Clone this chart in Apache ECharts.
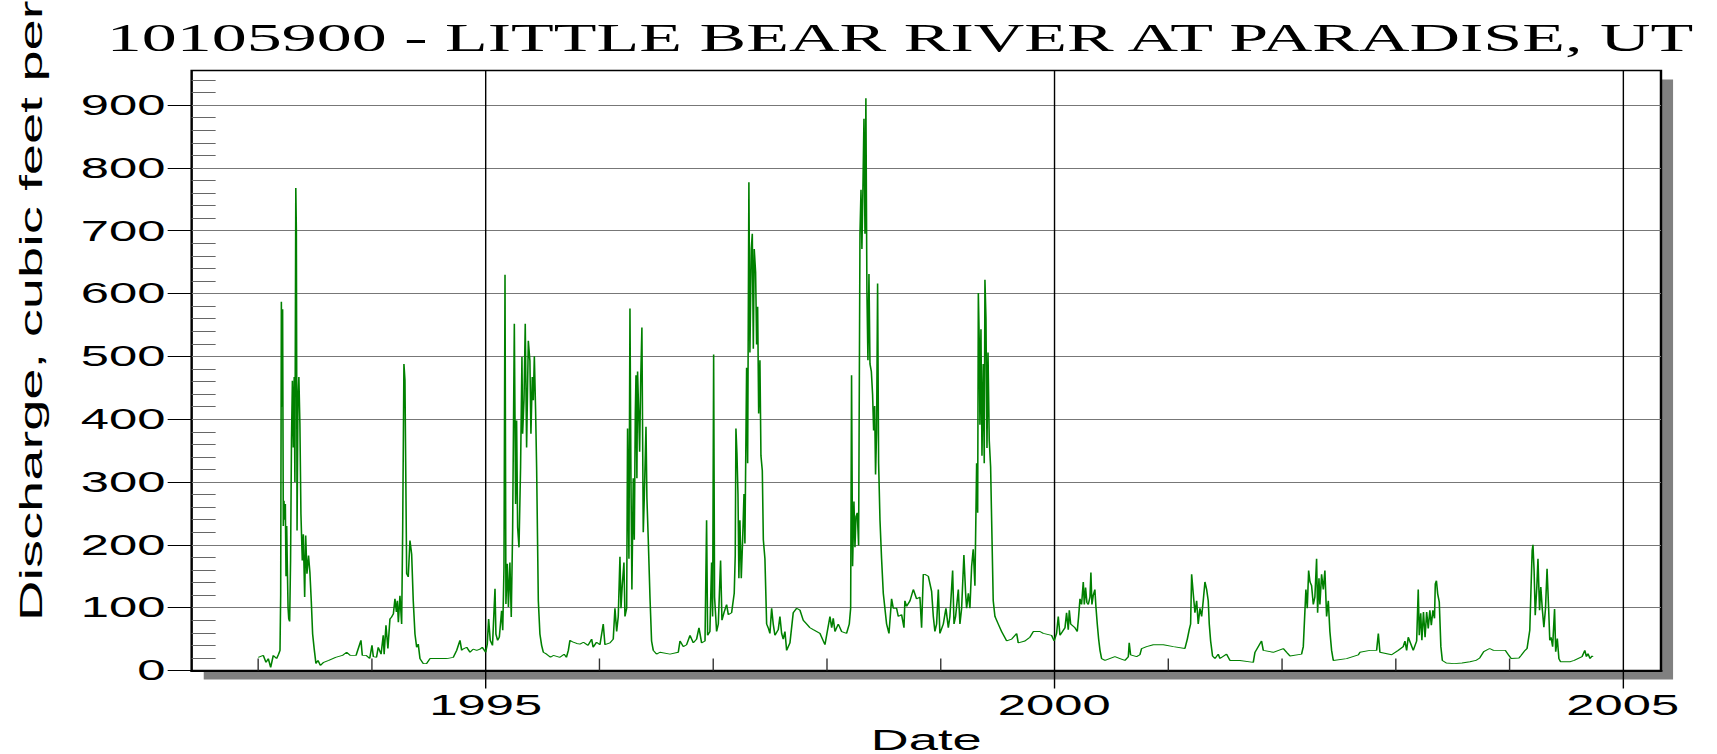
<!DOCTYPE html>
<html>
<head>
<meta charset="utf-8">
<title>10105900 - Little Bear River at Paradise, UT</title>
<script src="https://cdn.jsdelivr.net/npm/echarts@6/dist/echarts.min.js"></script>
<style>
html, body { margin: 0; padding: 0; background: #fff; overflow: hidden; }
/* the original plot uses very wide lettering, so draw narrow and stretch sideways */
#main { width: 981px; height: 754px; transform: scaleX(1.75025); transform-origin: 0 0; }
</style>
</head>
<body>
<div id="main"></div>
<script>
var STRETCH = 1717 / 981;

// daily discharge, [decimal year, cfs]
var flow1993 = [[1993.000,21],[1993.044,24],[1993.068,13],[1993.088,19],[1993.109,5],[1993.132,24],[1993.161,19],[1993.179,26],[1993.191,32],[1993.197,120],[1993.203,587],[1993.209,420],[1993.214,575],[1993.220,230],[1993.226,270],[1993.232,240],[1993.238,265],[1993.244,150],[1993.250,230],[1993.256,160],[1993.262,100],[1993.268,82],[1993.276,78],[1993.284,175],[1993.292,366],[1993.300,461],[1993.308,355],[1993.316,467],[1993.322,300],[1993.330,768],[1993.335,700],[1993.341,223],[1993.349,430],[1993.357,467],[1993.366,393],[1993.375,250],[1993.387,175],[1993.396,217],[1993.408,117],[1993.417,215],[1993.428,154],[1993.442,183],[1993.454,156],[1993.466,111],[1993.478,58],[1993.492,34],[1993.507,11],[1993.525,16],[1993.546,8],[1993.575,13],[1993.620,16],[1993.680,21],[1993.740,24],[1993.777,29],[1993.810,24],[1993.860,24],[1993.903,48],[1993.915,24],[1993.950,24],[1993.980,19]];
var flow1994 = [[1994.000,40],[1994.012,22],[1994.040,21],[1994.055,37],[1994.080,26],[1994.099,56],[1994.107,26],[1994.123,72],[1994.140,35],[1994.158,82],[1994.172,85],[1994.188,90],[1994.202,114],[1994.215,93],[1994.223,111],[1994.232,77],[1994.246,119],[1994.261,74],[1994.270,223],[1994.281,488],[1994.290,462],[1994.305,154],[1994.319,149],[1994.334,207],[1994.349,185],[1994.363,111],[1994.378,58],[1994.393,37],[1994.407,42],[1994.422,19],[1994.451,11],[1994.480,11],[1994.510,19],[1994.600,19],[1994.657,19],[1994.715,21],[1994.745,32],[1994.774,48],[1994.789,32],[1994.800,34],[1994.833,37],[1994.862,29],[1994.890,34],[1994.921,32],[1994.950,34],[1994.970,37]];
var flow1995 = [[1995.000,29],[1995.014,42],[1995.026,82],[1995.040,48],[1995.060,40],[1995.082,130],[1995.090,58],[1995.105,48],[1995.120,53],[1995.140,95],[1995.150,64],[1995.161,164],[1995.170,630],[1995.178,106],[1995.190,170],[1995.200,101],[1995.213,172],[1995.225,85],[1995.237,223],[1995.252,552],[1995.263,265],[1995.272,398],[1995.281,228],[1995.293,196],[1995.307,324],[1995.319,499],[1995.325,377],[1995.337,430],[1995.348,552],[1995.360,355],[1995.375,525],[1995.389,493],[1995.398,377],[1995.410,467],[1995.419,430],[1995.428,500],[1995.439,414],[1995.448,324],[1995.463,111],[1995.477,58],[1995.492,40],[1995.507,29],[1995.536,26],[1995.570,21],[1995.595,24],[1995.653,21],[1995.690,26],[1995.710,21],[1995.727,32],[1995.741,48],[1995.770,45],[1995.800,43],[1995.829,42],[1995.860,45],[1995.900,40],[1995.932,50],[1995.945,37],[1995.975,45]];
var flow1996 = [[1996.005,41],[1996.034,74],[1996.049,41],[1996.093,44],[1996.122,50],[1996.137,99],[1996.152,62],[1996.166,86],[1996.181,181],[1996.190,99],[1996.201,135],[1996.216,172],[1996.225,86],[1996.240,99],[1996.248,385],[1996.260,178],[1996.269,576],[1996.278,300],[1996.286,129],[1996.298,306],[1996.307,208],[1996.316,409],[1996.322,470],[1996.330,306],[1996.336,476],[1996.345,415],[1996.354,348],[1996.363,458],[1996.374,546],[1996.386,220],[1996.395,275],[1996.410,388],[1996.418,275],[1996.430,208],[1996.445,117],[1996.459,47],[1996.474,32],[1996.503,26],[1996.533,29],[1996.621,26],[1996.694,29],[1996.709,47],[1996.738,38],[1996.767,41],[1996.797,56],[1996.826,44],[1996.855,50],[1996.876,68],[1996.899,44],[1996.929,47],[1996.943,239],[1996.952,56],[1996.972,62],[1996.987,172],[1996.996,86]];
var flow1997 = [[1997.005,503],[1997.013,117],[1997.031,62],[1997.046,74],[1997.066,175],[1997.078,80],[1997.096,92],[1997.119,105],[1997.134,89],[1997.163,92],[1997.186,123],[1997.195,184],[1997.201,385],[1997.210,345],[1997.219,281],[1997.227,147],[1997.236,239],[1997.248,147],[1997.260,208],[1997.272,281],[1997.280,202],[1997.295,482],[1997.304,330],[1997.315,777],[1997.324,506],[1997.336,671],[1997.345,695],[1997.354,512],[1997.362,671],[1997.374,634],[1997.383,519],[1997.392,579],[1997.401,409],[1997.412,494],[1997.421,342],[1997.433,318],[1997.442,208],[1997.456,178],[1997.471,74],[1997.485,68],[1997.500,59],[1997.515,99],[1997.529,74],[1997.544,56],[1997.573,65],[1997.588,86],[1997.603,59],[1997.617,50],[1997.632,62],[1997.647,32],[1997.676,44],[1997.705,92],[1997.735,99],[1997.764,96],[1997.793,80],[1997.823,74],[1997.852,68],[1997.881,65],[1997.940,59],[1997.984,41]];
var flow1998 = [[1998.028,86],[1998.043,68],[1998.057,83],[1998.072,62],[1998.101,74],[1998.131,62],[1998.174,59],[1998.198,74],[1998.210,99],[1998.218,470],[1998.227,166],[1998.239,269],[1998.248,196],[1998.257,245],[1998.268,251],[1998.280,199],[1998.292,695],[1998.301,765],[1998.309,671],[1998.318,768],[1998.327,878],[1998.336,695],[1998.344,911],[1998.353,604],[1998.362,494],[1998.371,631],[1998.380,488],[1998.392,476],[1998.403,439],[1998.412,382],[1998.421,421],[1998.429,312],[1998.438,379],[1998.447,616],[1998.456,330],[1998.468,239],[1998.482,178],[1998.497,123],[1998.526,74],[1998.547,59],[1998.570,114],[1998.585,99],[1998.614,99],[1998.629,86],[1998.658,89],[1998.679,68],[1998.687,111],[1998.702,102],[1998.732,111],[1998.761,129],[1998.790,114],[1998.819,117],[1998.834,68],[1998.849,153],[1998.863,153],[1998.893,150],[1998.922,126],[1998.937,86],[1998.951,62],[1998.966,74],[1998.981,129],[1998.995,59]];
var flow1999 = [[1999.025,74],[1999.048,99],[1999.069,68],[1999.083,86],[1999.107,159],[1999.119,74],[1999.133,86],[1999.157,129],[1999.171,74],[1999.186,99],[1999.206,184],[1999.221,123],[1999.230,99],[1999.245,123],[1999.259,99],[1999.274,166],[1999.288,193],[1999.303,135],[1999.318,330],[1999.327,251],[1999.333,601],[1999.341,525],[1999.347,391],[1999.356,543],[1999.365,342],[1999.376,488],[1999.385,330],[1999.391,622],[1999.400,561],[1999.409,354],[1999.418,506],[1999.429,366],[1999.441,324],[1999.450,239],[1999.464,111],[1999.479,86],[1999.508,74],[1999.538,62],[1999.582,47],[1999.626,50],[1999.670,59],[1999.684,44],[1999.743,47],[1999.787,53],[1999.816,62],[1999.875,62],[1999.904,59],[1999.977,56]];
var flow2000 = [[2000.000,47],[2000.021,59],[2000.036,86],[2000.051,56],[2000.095,68],[2000.109,92],[2000.124,65],[2000.133,96],[2000.145,74],[2000.183,68],[2000.203,62],[2000.215,86],[2000.227,114],[2000.241,105],[2000.256,141],[2000.265,105],[2000.276,132],[2000.288,108],[2000.300,105],[2000.315,117],[2000.323,156],[2000.332,105],[2000.344,120],[2000.358,129],[2000.367,102],[2000.379,74],[2000.391,50],[2000.403,32],[2000.417,19],[2000.447,16],[2000.534,22],[2000.579,19],[2000.622,16],[2000.652,22],[2000.660,44],[2000.672,25],[2000.725,22],[2000.754,25],[2000.769,35],[2000.813,38],[2000.872,41],[2000.960,41]];
var flow2001 = [[2001.048,38],[2001.150,35],[2001.171,50],[2001.188,65],[2001.200,74],[2001.209,153],[2001.223,123],[2001.238,92],[2001.253,111],[2001.267,74],[2001.282,99],[2001.297,86],[2001.311,111],[2001.326,141],[2001.341,129],[2001.355,111],[2001.364,74],[2001.376,47],[2001.393,23],[2001.414,19],[2001.443,26],[2001.458,19],[2001.516,26],[2001.546,16],[2001.634,16],[2001.751,13],[2001.766,29],[2001.824,47],[2001.839,32],[2001.927,29]];
var flow2002 = [[2002.015,35],[2002.044,29],[2002.074,23],[2002.176,26],[2002.191,38],[2002.214,129],[2002.226,99],[2002.238,159],[2002.250,141],[2002.264,135],[2002.279,105],[2002.293,117],[2002.308,178],[2002.317,92],[2002.329,147],[2002.337,105],[2002.352,153],[2002.367,129],[2002.381,159],[2002.396,86],[2002.411,111],[2002.425,62],[2002.440,32],[2002.455,16],[2002.572,19],[2002.675,25],[2002.689,29],[2002.777,32],[2002.836,32],[2002.851,59],[2002.865,29],[2002.968,25]];
var flow2003 = [[2003.026,32],[2003.070,38],[2003.085,47],[2003.100,32],[2003.114,53],[2003.158,32],[2003.188,47],[2003.202,129],[2003.211,56],[2003.224,91],[2003.234,48],[2003.248,93],[2003.262,53],[2003.276,93],[2003.290,67],[2003.304,96],[2003.317,72],[2003.331,96],[2003.345,83],[2003.352,138],[2003.362,143],[2003.373,122],[2003.387,109],[2003.401,38],[2003.414,16],[2003.449,12],[2003.518,11],[2003.587,12],[2003.657,14],[2003.709,16],[2003.743,20],[2003.778,30],[2003.830,35],[2003.864,32],[2003.968,32]];
var flow2004 = [[2004.003,23],[2004.020,19],[2004.089,20],[2004.107,24],[2004.141,32],[2004.159,35],[2004.183,64],[2004.193,125],[2004.204,191],[2004.211,200],[2004.221,159],[2004.231,88],[2004.245,133],[2004.255,178],[2004.269,96],[2004.280,133],[2004.294,96],[2004.307,69],[2004.321,98],[2004.335,162],[2004.349,98],[2004.359,48],[2004.370,53],[2004.384,38],[2004.401,98],[2004.411,30],[2004.425,51],[2004.439,19],[2004.453,14],[2004.540,14],[2004.574,16],[2004.643,22],[2004.667,32],[2004.681,22],[2004.695,27],[2004.713,19],[2004.730,23],[2004.740,22]];

var yTicks = [0, 100, 200, 300, 400, 500, 600, 700, 800, 900];
var yMinor = [20, 40, 60, 80, 120, 140, 160, 180, 220, 240, 260, 280, 320, 340, 360, 380, 420, 440, 460, 480,
              520, 540, 560, 580, 620, 640, 660, 680, 720, 740, 760, 780, 820, 840, 860, 880, 920, 940];
var xYears = [1995, 2000, 2005];
var xMinorYears = [1993, 1994, 1996, 1997, 1998, 1999, 2001, 2002, 2003, 2004];
var xMin = 1992.414, xMax = 2005.337;
var yMax = 955;

var discharge = [].concat(flow1993, flow1994, flow1995, flow1996, flow1997, flow1998,
    flow1999, flow2000, flow2001, flow2002, flow2003, flow2004);

var myChart = echarts.init(document.getElementById('main'), null, { renderer: 'svg' });

var option = {
    animation: false,
    backgroundColor: '#fff',
    textStyle: { fontFamily: 'Liberation Sans' },
    title: {
        text: '10105900 - LITTLE BEAR RIVER AT PARADISE, UT',
        left: 61,
        top: 17,
        padding: 0,
        textStyle: { fontFamily: 'Liberation Serif', fontSize: 40, fontWeight: 'normal', color: '#000' }
    },
    grid: [
        { // plot box
            left: 109.5, right: 32, top: 70.5, bottom: 83.5,
            show: true, backgroundColor: '#fff', borderColor: '#000', borderWidth: 1.4,
            outerBoundsMode: 'none'
        },
        { // drop shadow behind it
            left: 116.4, right: 25.1, top: 79.5, bottom: 74.5, z: -1,
            show: true, backgroundColor: '#808080', borderWidth: 0,
            outerBoundsMode: 'none'
        }
    ],
    xAxis: [
        {
            type: 'value', gridIndex: 0, min: xMin, max: xMax, position: 'bottom',
            name: 'Date', nameLocation: 'middle', nameGap: 47,
            nameTextStyle: { fontSize: 30, lineHeight: 26, color: '#000', fontFamily: 'Liberation Sans' },
            axisLine: { show: true, lineStyle: { color: '#000', width: 2 } },
            axisTick: { show: true, customValues: xYears, length: 18, lineStyle: { color: '#000', width: 0.8 } },
            axisLabel: {
                customValues: xYears, fontSize: 29, color: '#000', margin: 20,
                formatter: function (v) { return String(Math.round(v)); }
            },
            splitLine: { show: true, lineStyle: { color: '#000', width: 0.8 } }
        },
        {
            type: 'value', gridIndex: 0, min: xMin, max: xMax, position: 'bottom',
            axisLine: { show: false }, axisLabel: { show: false }, splitLine: { show: false },
            axisTick: { show: true, inside: true, customValues: xMinorYears, length: 12, lineStyle: { color: '#333', width: 0.8 } }
        }
    ],
    yAxis: [
        {
            type: 'value', gridIndex: 0, min: 0, max: yMax, position: 'left',
            axisLine: { show: false },
            axisTick: { show: true, customValues: yTicks, length: 13.7, lineStyle: { color: '#000', width: 1 } },
            axisLabel: { customValues: yTicks, fontSize: 29, color: '#000', margin: 15 },
            splitLine: { show: true, lineStyle: { color: '#777', width: 1 } }
        },
        {
            type: 'value', gridIndex: 0, min: 0, max: yMax, position: 'left',
            axisLine: { show: false }, axisLabel: { show: false }, splitLine: { show: false },
            axisTick: { show: true, inside: true, customValues: yMinor, length: 13.7, lineStyle: { color: '#666', width: 1 } }
        }
    ],
    graphic: [
        {
            // vertical axis title, kept wide along its baseline like the other text
            type: 'text',
            x: 18, y: 621,
            rotation: Math.PI / 2,
            scaleX: 1.81, scaleY: 1 / STRETCH,
            style: {
                text: 'Discharge, cubic feet per second',
                fontFamily: 'Liberation Sans', fontSize: 31, fill: '#000',
                align: 'left', verticalAlign: 'middle',
                textAlign: 'left', textVerticalAlign: 'middle'
            }
        }
    ],
    series: [
        {
            name: 'Discharge',
            type: 'line',
            xAxisIndex: 0,
            yAxisIndex: 0,
            data: discharge,
            symbol: 'none',
            showSymbol: false,
            silent: true,
            lineStyle: { color: '#008000', width: 0.9 }
        }
    ]
};

myChart.setOption(option);
</script>
</body>
</html>
